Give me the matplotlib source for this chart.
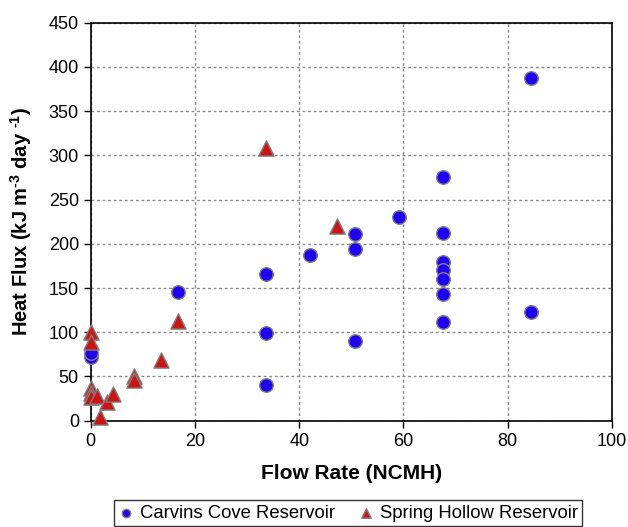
from matplotlib import pyplot as plt
import numpy as np

plt.rcParams['font.family'] = ['Liberation Sans', 'DejaVu Sans']
plt.rcParams['mathtext.fontset'] = 'custom'
plt.rcParams['mathtext.rm'] = 'Liberation Sans:bold'
plt.rcParams['mathtext.bf'] = 'Liberation Sans:bold'

# Carvins Cove Reservoir
cc_flow = [0, 0, 16.8, 33.6, 33.6, 33.6, 42.1, 50.7, 50.7, 50.7, 59.1,
           67.6, 67.6, 67.6, 67.6, 67.6, 67.6, 67.6, 84.4, 84.4]
cc_flux = [72, 77, 145, 166, 99, 40, 187, 211, 194, 90, 230,
           275, 212, 179, 170, 160, 143, 112, 387, 123]

# Spring Hollow Reservoir
sh_flow = [0, 0, 0, 0, 0, 1.2, 1.7, 3.2, 4.3, 8.4, 8.4, 13.5, 16.8, 33.6, 47.2]
sh_flux = [100, 89, 37, 31, 27, 28, 4, 21, 30, 50, 46, 69, 113, 308, 220]

fig = plt.figure(figsize=(6.28, 5.27), dpi=100)
ax = fig.add_axes([0.1444, 0.2017, 0.8301, 0.7552])

ax.scatter(cc_flow, cc_flux, s=95, marker='o', color='#2000f5',
           edgecolors='#808080', linewidths=1.0, zorder=3, clip_on=False,
           label='Carvins Cove Reservoir')
ax.scatter(sh_flow, sh_flux, s=120, marker='^', color='#cc1414',
           edgecolors='#808080', linewidths=1.0, zorder=3, clip_on=False,
           label='Spring Hollow Reservoir')

ax.set_xlim(0, 100)
ax.set_ylim(0, 450)
ax.set_xticks(np.arange(0, 101, 20))
ax.set_yticks(np.arange(0, 451, 50))
ax.tick_params(labelsize=13, direction='out', length=5, width=1)
ax.grid(True, linestyle=(0, (2, 2)), color='#888888', linewidth=1)
ax.set_axisbelow(True)
for sp in ax.spines.values():
    sp.set_linewidth(1.2)

ax.set_xlabel('Flow Rate (NCMH)', fontsize=15, fontweight='bold')
ax.set_ylabel('Heat Flux (kJ m$^{\\text{-3}}$ day $^{\\text{-1}}$)',
              fontsize=14.5, fontweight='bold')
ax.xaxis.set_label_coords(0.5, -0.108)
ax.yaxis.set_label_coords(-0.108, 0.5)

leg = fig.legend(loc='upper center', ncol=2, fontsize=13.3, frameon=True,
                 fancybox=False, edgecolor='black', handlelength=0.9,
                 handletextpad=0.3, columnspacing=1.2, borderpad=0.25,
                 borderaxespad=0, markerscale=0.62,
                 bbox_to_anchor=(0.554, 1 - 500 / 527))
leg.get_frame().set_linewidth(1.0)

fig.savefig('out.png', dpi=100)
